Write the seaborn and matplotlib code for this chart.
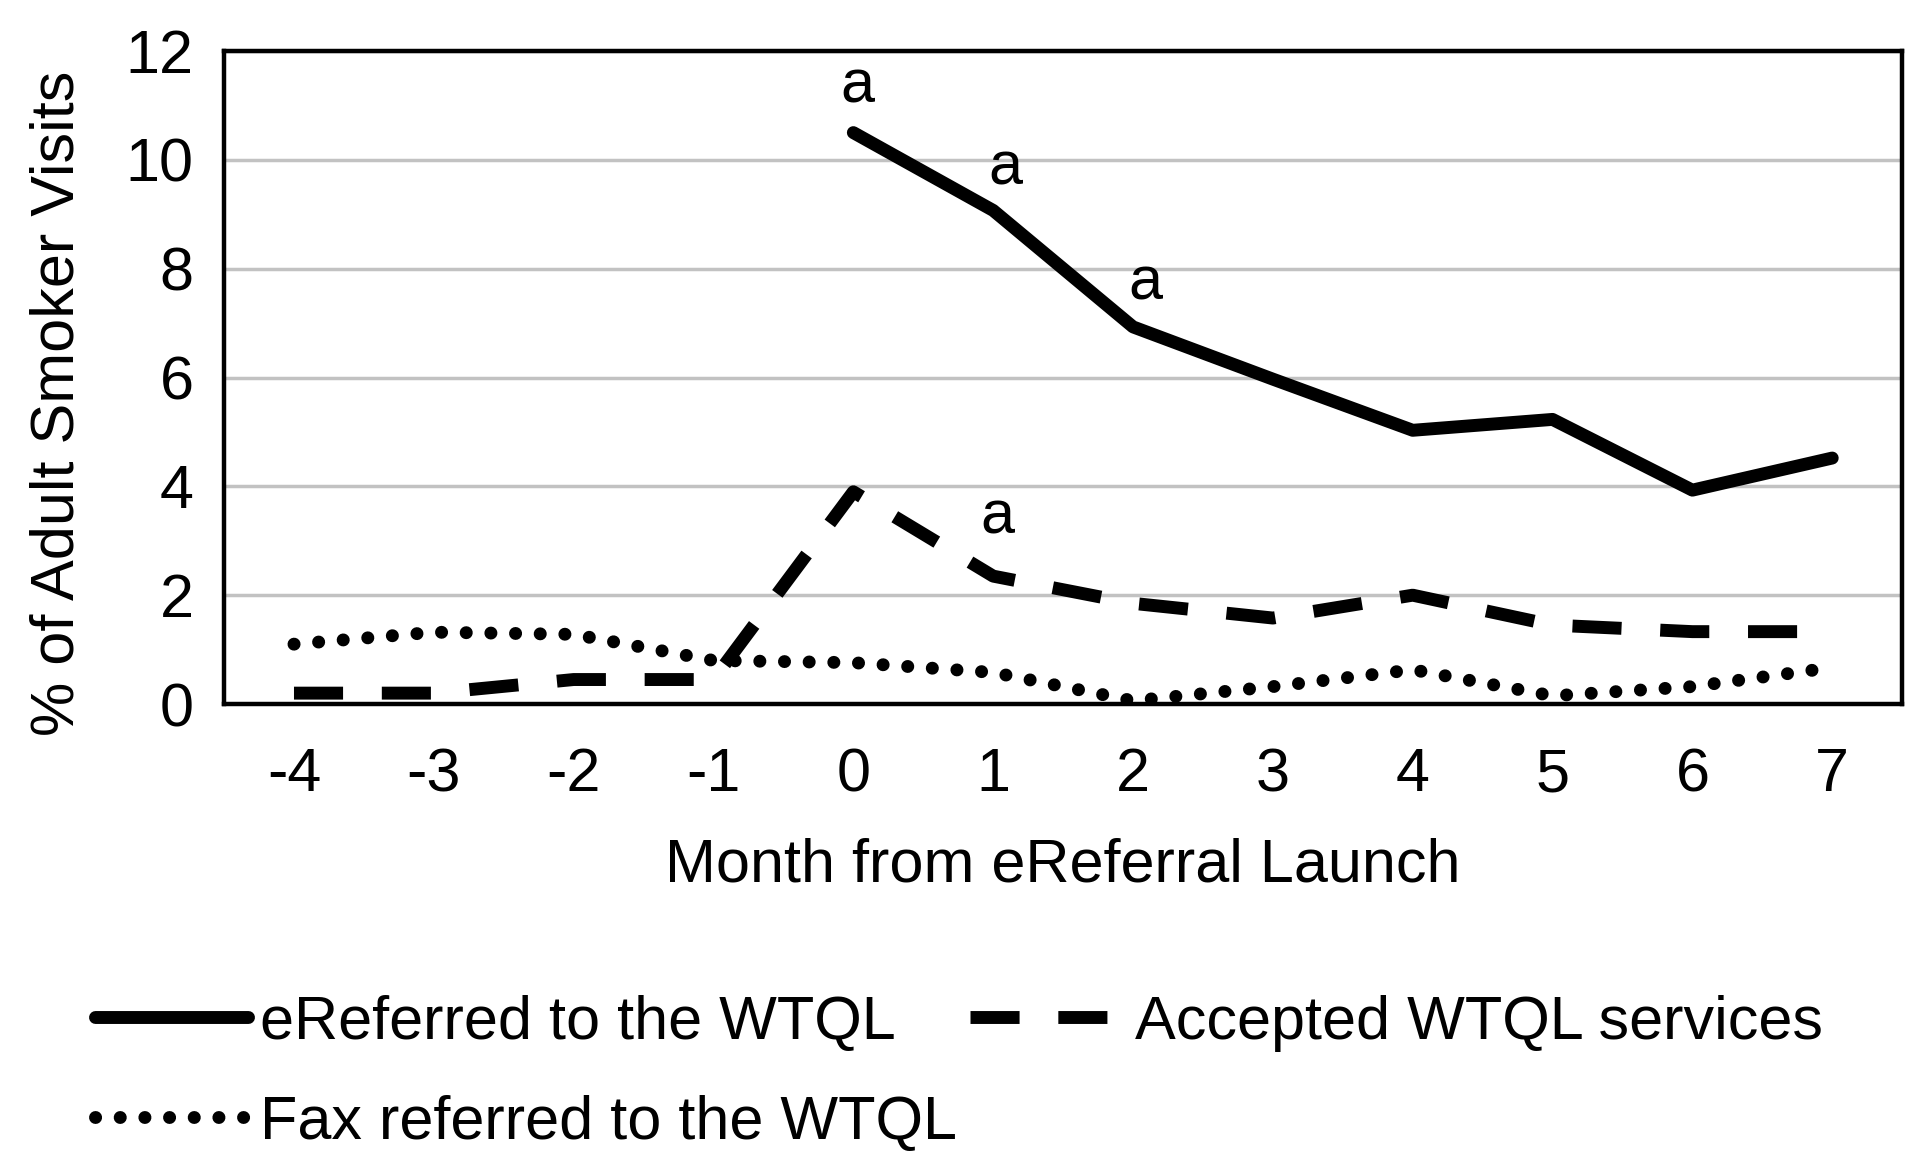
import numpy as np
import pandas as pd
import matplotlib
matplotlib.use("Agg")
import matplotlib.pyplot as plt
import seaborn as sns

months = [-4, -3, -2, -1, 0, 1, 2, 3, 4, 5, 6, 7]
ereferred = [np.nan, np.nan, np.nan, np.nan, 10.5, 9.07, 6.93, 5.97, 5.03, 5.23, 3.93, 4.52]
accepted = [0.2, 0.2, 0.45, 0.45, 3.9, 2.35, 1.85, 1.58, 2.0, 1.45, 1.33, 1.33]
fax = [1.1, 1.32, 1.28, 0.8, 0.76, 0.58, 0.06, 0.32, 0.63, 0.15, 0.32, 0.67]
series_names = ["eReferred to the WTQL", "Accepted WTQL services", "Fax referred to the WTQL"]
yticks = [0, 2, 4, 6, 8, 10, 12]
annot_series = [0, 0, 0, 1]
annot_month = [0, 1, 2, 1]
annot_text = ["a", "a", "a", "a"]

sns.set_theme(style="white")
plt.rcParams["font.family"] = ["Liberation Sans", "DejaVu Sans"]
for k in ["text.color", "axes.labelcolor", "xtick.color", "ytick.color"]:
    plt.rcParams[k] = "black"

FS = 44
fig = plt.figure(figsize=(19.2, 11.72), dpi=100)
ax = fig.add_axes([0.1167, 0.3993, 0.874, 0.5572])

df = pd.DataFrame({"month": months, series_names[0]: ereferred,
                   series_names[1]: accepted, series_names[2]: fax})

lw = 9.3
styles = [
    dict(linestyle="-"),
    dict(dashes=(3.8, 3.0), dash_capstyle="butt"),
    dict(dashes=(0.01, 1.9), dash_capstyle="round"),
]
handles = []
for name, st in zip(series_names, styles):
    sub = df[["month", name]].dropna()
    sns.lineplot(data=sub, x="month", y=name, ax=ax, color="black", linewidth=lw,
                 label=name, **st)
    handles.append(ax.get_lines()[-1])

offsets = {(0, 0): (4, 30), (0, 1): (12, 26), (0, 2): (12, 27), (1, 1): (4, 43)}
for s, m, t in zip(annot_series, annot_month, annot_text):
    vals = [ereferred, accepted, fax][s]
    val = vals[months.index(m)]
    ax.annotate(t, xy=(m, val), xytext=offsets[(s, m)], textcoords="offset pixels",
                ha="center", va="baseline", fontsize=FS, color="black")

ax.set_xlim(-4.5, 7.5)
ax.set_ylim(0, 12)
ax.set_xticks(months)
ax.set_xticklabels([str(m) for m in months], fontsize=FS)
ax.set_yticks(yticks)
ax.set_yticklabels([str(v) for v in yticks], fontsize=FS)
ax.tick_params(axis="x", length=0, pad=31)
ax.tick_params(axis="y", length=0, pad=22)
ax.yaxis.grid(True, color="#c2c2c2", linewidth=2.5)
ax.set_axisbelow(True)
for sp in ax.spines.values():
    sp.set_visible(True)
    sp.set_color("black")
    sp.set_linewidth(3.2)
ax.set_xlabel("Month from eReferral Launch", fontsize=FS, labelpad=24)
ax.set_ylabel("% of Adult Smoker Visits", fontsize=FS, labelpad=28, y=0.46)

if ax.get_legend() is not None:
    ax.get_legend().remove()
order = [0, 2, 1]
fig.legend([handles[i] for i in order], [series_names[i] for i in order],
           loc="upper left", bbox_to_anchor=(0.037, 0.172), ncol=2, frameon=False,
           fontsize=FS, handlelength=2.5, handletextpad=0.2, columnspacing=0.2,
           labelspacing=0.7, borderaxespad=0)

fig.savefig("out.png", dpi=100)
